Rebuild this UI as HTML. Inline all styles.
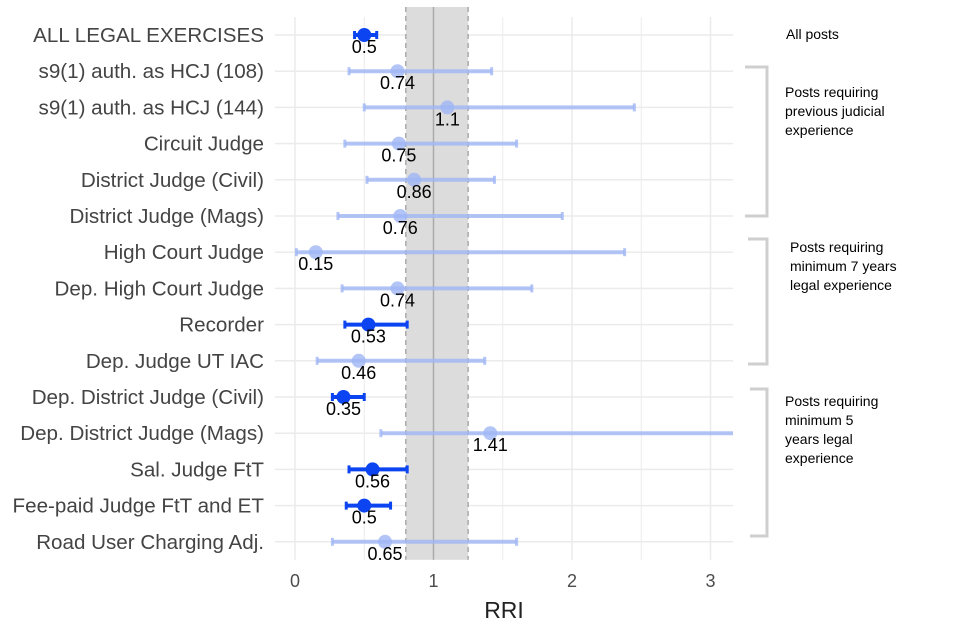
<!DOCTYPE html>
<html><head><meta charset="utf-8"><style>
body{margin:0;background:#fff;}
svg{display:block;font-family:"Liberation Sans",Arial,sans-serif;}
</style></head><body>
<svg id="chart" width="960" height="640">
<g id="grid"></g>
<rect id="band" fill="#dcdcdc"></rect>
<g id="bandlines"></g>
<g id="marks"></g>
<g id="ylabels"></g>
<g id="xticks"></g>
<text x="504" y="618" font-size="23" fill="#222" text-anchor="middle">RRI</text>
<g fill="#000" font-size="14">
<text x="786" y="39">All posts</text>
<path d="M745,67 H767 V216 H745" fill="none" stroke="#cfcfcf" stroke-width="3"/>
<text x="785" y="97"><tspan x="785">Posts requiring</tspan><tspan x="785" dy="19">previous judicial</tspan><tspan x="785" dy="19">experience</tspan></text>
<path d="M748,239 H767 V364 H748" fill="none" stroke="#cfcfcf" stroke-width="3"/>
<text x="790" y="252"><tspan x="790">Posts requiring</tspan><tspan x="790" dy="19">minimum 7 years</tspan><tspan x="790" dy="19">legal experience</tspan></text>
<path d="M750,389 H767 V536 H750" fill="none" stroke="#cfcfcf" stroke-width="3"/>
<text x="785" y="406"><tspan x="785">Posts requiring</tspan><tspan x="785" dy="19">minimum 5</tspan><tspan x="785" dy="19">years legal</tspan><tspan x="785" dy="19">experience</tspan></text>
</g>
</svg>
<script>
const categories=["ALL LEGAL EXERCISES","s9(1) auth. as HCJ (108)","s9(1) auth. as HCJ (144)","Circuit Judge","District Judge (Civil)","District Judge (Mags)","High Court Judge","Dep. High Court Judge","Recorder","Dep. Judge UT IAC","Dep. District Judge (Civil)","Dep. District Judge (Mags)","Sal. Judge FtT","Fee-paid Judge FtT and ET","Road User Charging Adj."];
const rri=[0.5,0.74,1.1,0.75,0.86,0.76,0.15,0.74,0.53,0.46,0.35,1.41,0.56,0.5,0.65];
const lower=[0.43,0.39,0.5,0.36,0.52,0.31,0.01,0.34,0.36,0.16,0.27,0.62,0.39,0.37,0.27];
const upper=[0.59,1.42,2.45,1.6,1.44,1.93,2.38,1.71,0.81,1.37,0.5,3.3,0.81,0.69,1.6];
const significant=[1,0,0,0,0,0,0,0,1,0,1,0,1,1,0];
const xTicks=[0,1,2,3];
const bandLow=0.8,bandHigh=1.25;
const NS="http://www.w3.org/2000/svg";
const X0=275,X1=733;
const x=v=>295+v*138.5;
const y=i=>35+i*36.2;
const cx=v=>Math.max(X0,Math.min(X1,x(v)));
function el(tag,attrs,parent){const e=document.createElementNS(NS,tag);for(const k in attrs)e.setAttribute(k,attrs[k]);parent.appendChild(e);return e;}
const grid=document.getElementById('grid'),marks=document.getElementById('marks'),yl=document.getElementById('ylabels'),xt=document.getElementById('xticks');
const gt=y(0)-18,gb=y(categories.length-1)+18;
for(let v=0;v<=3;v+=0.5){const l=el('line',{x1:x(v),x2:x(v),y1:gt,y2:gb,stroke:'#ebebeb','stroke-width':v%1?1:1.5},grid);
}
categories.forEach((c,i)=>{const l=el('line',{x1:X0,x2:X1,y1:y(i),y2:y(i),stroke:'#ebebeb','stroke-width':1.5},grid);
});
const band=document.getElementById('band');
band.setAttribute('x',x(bandLow));band.setAttribute('width',x(bandHigh)-x(bandLow));band.setAttribute('y',gt-10);band.setAttribute('height',gb-gt+10);
const bl=document.getElementById('bandlines');
[[bandLow,'5,4'],[bandHigh,'5,4'],[1,'']].forEach(([v,d])=>{const l=el('line',{x1:x(v),x2:x(v),y1:gt-10,y2:gb,stroke:'#aaa','stroke-width':1.5},bl);
if(d)l.setAttribute('stroke-dasharray',d);});
categories.forEach((c,i)=>{
const col=significant[i]?'#0b44f0':'rgba(160,182,245,0.8)';
const g=el('g',{},marks);
const yy=y(i);
const ci=el('line',{x1:cx(lower[i]),x2:cx(upper[i]),y1:yy,y2:yy,stroke:col,'stroke-width':4},g);

[lower[i],upper[i]].forEach(v=>{if(x(v)>=X0&&x(v)<=X1){const cap=el('line',{x1:x(v),x2:x(v),y1:yy-4,y2:yy+4,stroke:col,'stroke-width':3},g);
}});
const p=el('circle',{cx:x(rri[i]),cy:yy,r:7,fill:col},g);

const t=el('text',{x:x(rri[i]),y:yy+18,'font-size':18,'text-anchor':'middle',fill:'#000'},g);t.textContent=rri[i];

const lab=el('text',{x:264,y:yy+7,'font-size':20.6,'text-anchor':'end',fill:'#444'},yl);lab.textContent=c;

});
xTicks.forEach(v=>{const t=el('text',{x:x(v),y:587,'font-size':18,'text-anchor':'middle',fill:'#4d4d4d'},xt);t.textContent=v;
});
</script>
</body></html>
